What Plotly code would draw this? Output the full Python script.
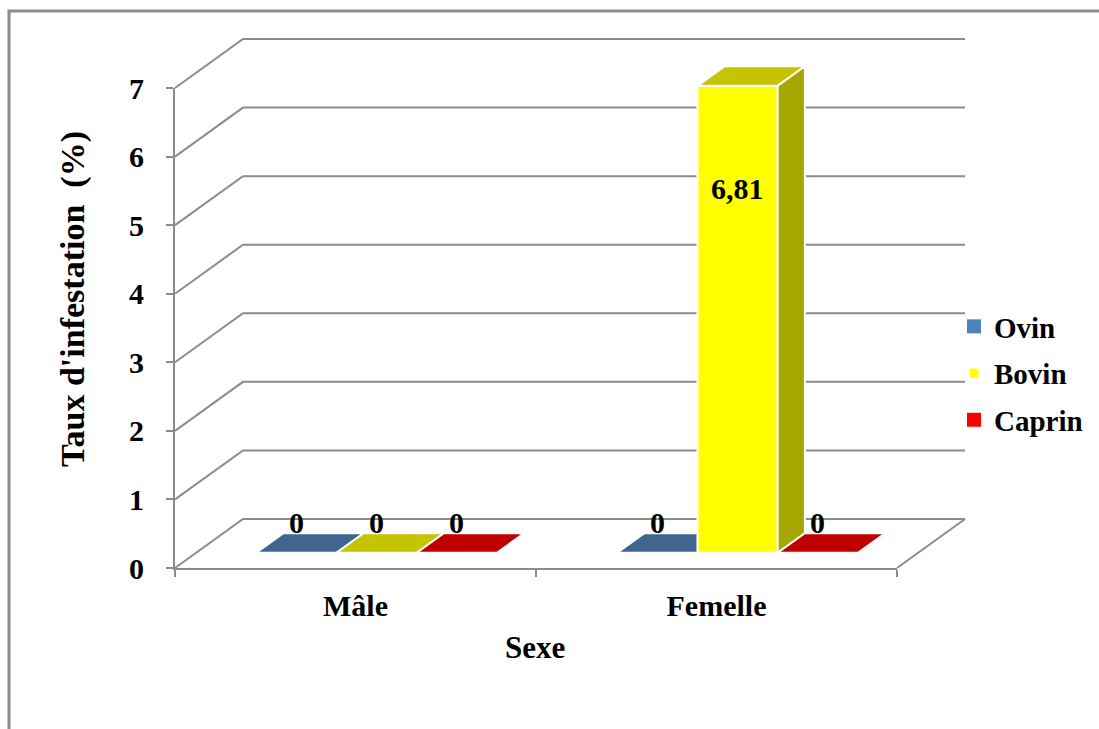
import plotly.graph_objects as go

# ---------------- data ----------------
categories = ["Mâle", "Femelle"]
series_names = ["Ovin", "Bovin", "Caprin"]
ovin = [0, 0]
bovin = [0, 6.81]
caprin = [0, 0]
y_ticks = [0, 1, 2, 3, 4, 5, 6, 7]
y_title = "Taux d'infestation\u00a0 (%)"
x_title = "Sexe"

# ---------------- style ----------------
front_colors = {"Ovin": "#4F81BD", "Bovin": "#FFFF00", "Caprin": "#FF0000"}
top_colors = {"Ovin": "#3F6591", "Bovin": "#C4C400", "Caprin": "#C00000"}
side_colors = {"Ovin": "#33507A", "Bovin": "#A6A600", "Caprin": "#A00000"}
legend_sizes = {"Ovin": 14, "Bovin": 9, "Caprin": 14}
GRID = "#8c8c8c"
FONT = "Liberation Serif, Times New Roman, serif"
FS_TICK = 30
FS_LABEL = 30
FS_LEGEND = 29
FS_TITLE = 31
FS_YTITLE = 34

W, H = 1099, 729
PX_L, PX_R = 175, 897      # front plane horizontal span (pixels)
PY_0, PY_TOP = 568, 88     # value 0 and value max (pixels)
Y_MAX = y_ticks[-1]
DEPTH_PX_X, DEPTH_PX_Y = 68, 49
FRONT, BACK = 0.31, 0.71
GAP = 1.5

ncat = len(categories)
px_per_cat = (PX_R - PX_L) / ncat
px_per_val = (PY_0 - PY_TOP) / Y_MAX
x_lo = -0.5 - PX_L / px_per_cat
x_hi = -0.5 + (W - PX_L) / px_per_cat
y_lo = -(H - PY_0) / px_per_val
y_hi = PY_0 / px_per_val
DX = DEPTH_PX_X / px_per_cat
DY = DEPTH_PX_Y / px_per_val
bar_w = 1.0 / (len(series_names) + GAP)


def P(x, v, d):
    return x + d * DX, v + d * DY


def bold(size):
    return dict(family=FONT, size=size, color="black", weight="bold")


fig = go.Figure()

# back wall gridlines + floor
gx, gy = [], []
for v in y_ticks:
    for pt in (P(-0.5, v, 0), P(-0.5, v, 1), P(ncat - 0.5, v, 1)):
        gx.append(pt[0]); gy.append(pt[1])
    gx.append(None); gy.append(None)
for pt in (P(ncat - 0.5, 0, 0), P(ncat - 0.5, 0, 1)):
    gx.append(pt[0]); gy.append(pt[1])
fig.add_trace(go.Scatter(x=gx, y=gy, mode="lines", line=dict(color=GRID, width=2),
                         showlegend=False, hoverinfo="skip"))

values = {"Ovin": ovin, "Bovin": bovin, "Caprin": caprin}
annotations = []
for s, name in enumerate(series_names):
    faces = {"front": ([], []), "top": ([], []), "side": ([], [])}
    for c, v in enumerate(values[name]):
        xc = c + (s - 1) * bar_w
        x0, x1 = xc - bar_w / 2, xc + bar_w / 2
        polys = {
            "top": [P(x0, v, FRONT), P(x1, v, FRONT), P(x1, v, BACK), P(x0, v, BACK)],
            "front": [P(x0, 0, FRONT), P(x1, 0, FRONT), P(x1, v, FRONT), P(x0, v, FRONT)],
            "side": [P(x1, 0, FRONT), P(x1, 0, BACK), P(x1, v, BACK), P(x1, v, FRONT)],
        }
        for k, poly in polys.items():
            if v == 0 and k != "top":
                continue
            xs, ys = faces[k]
            for pt in poly + [poly[0]]:
                xs.append(pt[0]); ys.append(pt[1])
            xs.append(None); ys.append(None)
        lx, ly = P(xc, v, FRONT)
        annotations.append(dict(
            x=lx, y=ly, xref="x", yref="y", showarrow=False,
            xanchor="center", yanchor="middle",
            text=f"{v:g}".replace(".", ","),
            yshift=30 if v == 0 else -103,
            font=bold(FS_LABEL)))
    cols = {"front": front_colors[name], "top": top_colors[name], "side": side_colors[name]}
    for k in ("front", "top", "side"):
        xs, ys = faces[k]
        if not xs:
            continue
        fig.add_trace(go.Scatter(x=xs, y=ys, mode="lines", fill="toself",
                                 fillcolor=cols[k], line=dict(color="white", width=2),
                                 showlegend=False, hoverinfo="skip"))
    # legend entry
    fig.add_trace(go.Scatter(x=[None], y=[None], mode="markers", name=name,
                             legendgroup=name,
                             marker=dict(symbol="square", size=legend_sizes[name],
                                         color=front_colors[name])))

# axis holder trace on the front plane
fig.add_trace(go.Scatter(x=categories, y=[0] * ncat, xaxis="x2", yaxis="y2",
                         mode="markers", marker=dict(opacity=0), showlegend=False,
                         hoverinfo="skip"))

annotations.append(dict(x=73 / W, y=1 - 299 / H, xref="paper", yref="paper",
                        xanchor="center", yanchor="middle",
                        text=y_title, textangle=-90, showarrow=False,
                        font=bold(FS_YTITLE)))
annotations.append(dict(x=535 / W, y=1 - 647 / H, xref="paper", yref="paper",
                        xanchor="center", yanchor="middle",
                        text=x_title, showarrow=False, font=bold(FS_TITLE)))

fig.update_layout(
    width=W, height=H, autosize=False,
    margin=dict(l=0, r=0, t=0, b=0, pad=0, autoexpand=False),
    paper_bgcolor="white", plot_bgcolor="rgba(0,0,0,0)",
    hovermode=False,
    xaxis=dict(range=[x_lo, x_hi], domain=[0, 1], visible=False, fixedrange=True,
               automargin=False),
    yaxis=dict(range=[y_lo, y_hi], domain=[0, 1], visible=False, fixedrange=True,
               automargin=False),
    xaxis2=dict(type="category", categoryorder="array", categoryarray=categories,
                range=[-0.5, ncat - 0.5], domain=[PX_L / W, PX_R / W], anchor="y2",
                tickson="boundaries", ticks="outside", ticklen=7, tickwidth=2,
                tickcolor=GRID, showline=True, linecolor=GRID, linewidth=2,
                showgrid=False, zeroline=False, tickfont=bold(FS_TICK),
                ticklabelstandoff=10, fixedrange=True, automargin=False),
    yaxis2=dict(range=[0, Y_MAX], domain=[(H - PY_0) / H, (H - PY_TOP) / H], anchor="x2",
                tickvals=y_ticks, ticks="outside", ticklen=7, tickwidth=2,
                tickcolor=GRID, showline=True, linecolor=GRID, linewidth=2,
                showgrid=False, zeroline=False, tickfont=bold(FS_TICK),
                ticklabelstandoff=16, fixedrange=True, automargin=False),
    legend=dict(x=954 / W, y=1 - 301 / H, xanchor="left", yanchor="top",
                font=bold(FS_LEGEND),
                traceorder="grouped", tracegroupgap=6, itemsizing="trace",
                bgcolor="rgba(0,0,0,0)"),
    annotations=annotations,
    shapes=[dict(type="rect", xref="paper", yref="paper", x0=9 / W, y0=-0.05,
                 x1=1.05, y1=1 - 11 / H, line=dict(color=GRID, width=3))],
)

fig.write_html("out.html")
